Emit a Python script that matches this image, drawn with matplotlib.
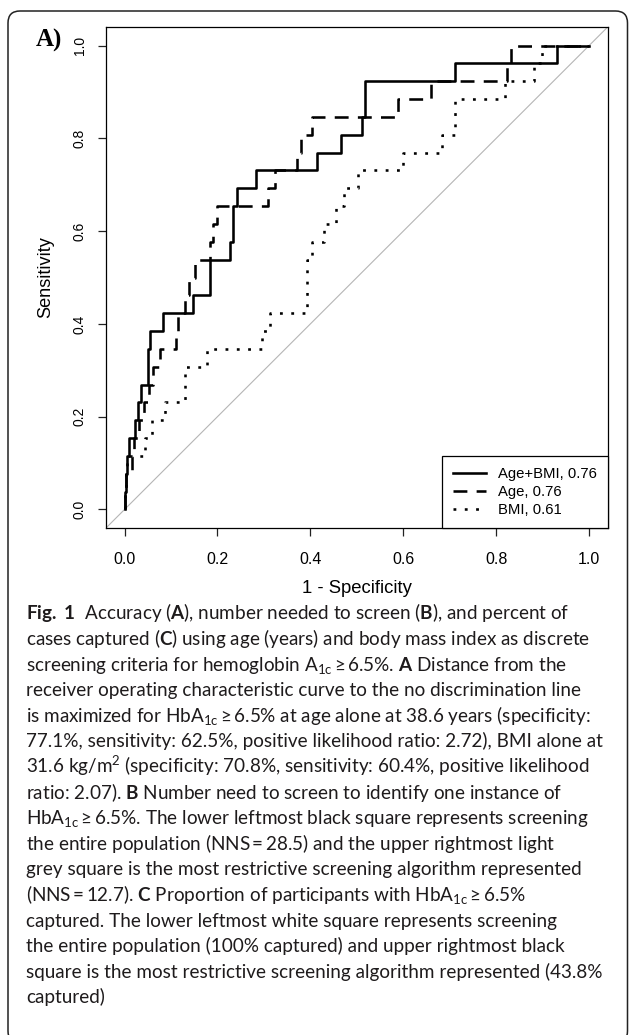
import matplotlib
matplotlib.use("Agg")
import matplotlib.pyplot as plt
from matplotlib.patches import FancyBboxPatch

plt.rcParams['font.family'] = ['Liberation Sans', 'DejaVu Sans']
plt.rcParams['mathtext.fontset'] = 'custom'
plt.rcParams['mathtext.rm'] = 'Lato'
plt.rcParams['mathtext.it'] = 'Lato:italic'
plt.rcParams['mathtext.bf'] = 'Lato:bold'
plt.rcParams['mathtext.default'] = 'regular'

# ROC curves: left end of each horizontal run (1 - specificity, sensitivity)
agebmi_fpr = [0, 0, 0.003, 0.006, 0.010, 0.022, 0.029, 0.036, 0.051, 0.055, 0.083, 0.147,
              0.184, 0.227, 0.234, 0.243, 0.283, 0.415, 0.466, 0.512, 0.518, 0.712, 0.931, 1.0]
agebmi_tpr = [0, 0.038, 0.077, 0.115, 0.154, 0.192, 0.231, 0.269, 0.346, 0.385, 0.423, 0.462,
              0.538, 0.577, 0.654, 0.692, 0.731, 0.769, 0.808, 0.846, 0.923, 0.962, 1.0, 1.0]

age_fpr = [0, 0, 0.004, 0.015, 0.020, 0.030, 0.042, 0.053, 0.062, 0.076, 0.111, 0.116, 0.130,
           0.139, 0.152, 0.184, 0.191, 0.198, 0.308, 0.324, 0.372, 0.380, 0.403, 0.588, 0.660,
           0.8235, 0.831, 1.0]
age_tpr = [0, 0.038, 0.077, 0.115, 0.154, 0.192, 0.231, 0.269, 0.308, 0.346, 0.385, 0.423, 0.462,
           0.500, 0.538, 0.577, 0.615, 0.654, 0.692, 0.731, 0.769, 0.808, 0.846, 0.885, 0.923,
           0.962, 1.0, 1.0]

bmi_fpr = [0, 0, 0.003, 0.006, 0.045, 0.058, 0.088, 0.131, 0.177, 0.295, 0.313, 0.393, 0.404,
           0.430, 0.455, 0.473, 0.503, 0.600, 0.683, 0.712, 0.818, 0.881, 0.899, 1.0]
bmi_tpr = [0, 0.038, 0.077, 0.115, 0.154, 0.192, 0.231, 0.308, 0.346, 0.385, 0.423, 0.538, 0.577,
           0.615, 0.654, 0.692, 0.731, 0.769, 0.808, 0.885, 0.923, 0.962, 1.0, 1.0]

labels = ["Age+BMI, 0.76", "Age, 0.76", "BMI, 0.61"]
ticks = [0.0, 0.2, 0.4, 0.6, 0.8, 1.0]
tick_labels = ["0.0", "0.2", "0.4", "0.6", "0.8", "1.0"]

caption = [
    r"$\mathbf{Fig.\ 1}$  Accuracy ($\mathbf{A}$), number needed to screen ($\mathbf{B}$), and percent of",
    r"cases captured ($\mathbf{C}$) using age (years) and body mass index as discrete",
    r"screening criteria for hemoglobin A$_{1c}\,$≥$\,$6.5%. $\mathbf{A}$ Distance from the",
    "receiver operating characteristic curve to the no discrimination line",
    r"is maximized for HbA$_{1c}\,$≥$\,$6.5% at age alone at 38.6 years (specificity:",
    "77.1%, sensitivity: 62.5%, positive likelihood ratio: 2.72), BMI alone at",
    r"31.6 kg/m$^{2}$ (specificity: 70.8%, sensitivity: 60.4%, positive likelihood",
    r"ratio: 2.07). $\mathbf{B}$ Number need to screen to identify one instance of",
    r"HbA$_{1c}\,$≥$\,$6.5%. The lower leftmost black square represents screening",
    r"the entire population (NNS$\,$=$\,$28.5) and the upper rightmost light",
    "grey square is the most restrictive screening algorithm represented",
    r"(NNS$\,$=$\,$12.7). $\mathbf{C}$ Proportion of participants with HbA$_{1c}\,$≥$\,$6.5%",
    "captured. The lower leftmost white square represents screening",
    "the entire population (100% captured) and upper rightmost black",
    "square is the most restrictive screening algorithm represented (43.8%",
    "captured)",
]

W, H = 629, 1035
fig = plt.figure(figsize=(W / 100, H / 100), dpi=100)

# background layer in pixel coordinates
bg = fig.add_axes([0, 0, 1, 1])
bg.set_xlim(0, W)
bg.set_ylim(H, 0)
bg.axis('off')
bg.add_patch(FancyBboxPatch((8, 11), 619.5, 1032, boxstyle="round,pad=0,rounding_size=12",
                            fc='white', ec='#222222', lw=1.1))
bg.text(48.5, 40, "A)", family=['Liberation Serif'], fontweight='bold', fontsize=18,
        ha='center', va='center')

for i, line in enumerate(caption):
    bg.text(26, 619.5 + i * 25.6, line, fontsize=13.6, family=['Lato', 'DejaVu Sans'],
            va='baseline', ha='left', color='#1e1b1c')

ax = fig.add_axes([106 / W, 1 - 528 / H, 501.7 / W, 501 / H])
ax.axline((0, 0), (1, 1), color='#b5b5b5', lw=0.8, zorder=1)
ax.step(agebmi_fpr, agebmi_tpr, where='post', color='black', lw=1.85, label=labels[0])
ax.step(age_fpr, age_tpr, where='post', color='black', lw=1.85,
        linestyle=(0, (5.4, 3.6)), label=labels[1])
ax.step(bmi_fpr, bmi_tpr, where='post', color='black', lw=1.85,
        linestyle=(0, (1.1, 3.3)), label=labels[2])

ax.set_xlim(-0.04, 1.04)
ax.set_ylim(-0.04, 1.04)
ax.set_xticks(ticks, tick_labels)
ax.set_yticks(ticks, tick_labels)
ax.tick_params(axis='both', direction='out', length=5.5, width=0.9, color='#222222')
ax.tick_params(axis='x', labelsize=11.5, pad=12)
ax.tick_params(axis='y', labelsize=10, pad=8.5)
for lab in ax.get_yticklabels():
    lab.set_rotation(90)
    lab.set_va('center')
for sp in ax.spines.values():
    sp.set_linewidth(0.9)

ax.set_xlabel("1 - Specificity", fontsize=13.3)
ax.set_ylabel("Sensitivity", fontsize=13.1)
ax.xaxis.set_label_coords(0.5, -0.103)
ax.yaxis.set_label_coords(-0.1036, 0.5)

leg = ax.legend(loc='lower right', frameon=True, fancybox=False, edgecolor='black',
                borderaxespad=0, fontsize=10.7, handlelength=2.2, handletextpad=0.8,
                borderpad=0.75, labelspacing=0.25)
leg.get_frame().set_linewidth(0.9)
leg.get_frame().set_alpha(1)

fig.savefig("out.png", dpi=100)
